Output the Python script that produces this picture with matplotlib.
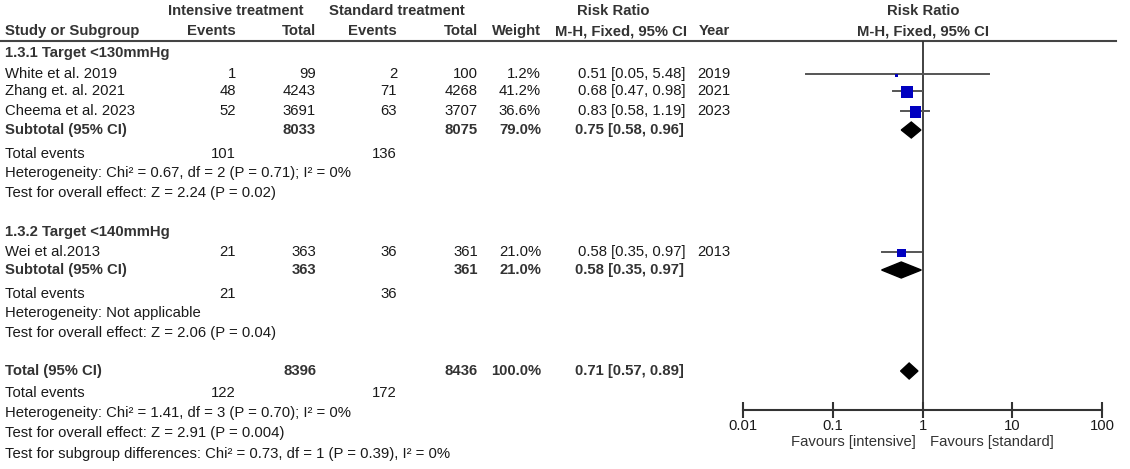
import numpy as np
import matplotlib
matplotlib.use("Agg")
import matplotlib.pyplot as plt
from matplotlib.patches import Polygon

plt.rcParams['font.family'] = ['Liberation Sans', 'DejaVu Sans']

# ---- data ----
studies = ["White et al. 2019", "Zhang et. al. 2021", "Cheema et al. 2023", "Wei et al.2013"]
int_events = [1, 48, 52, 21]
int_total = [99, 4243, 3691, 363]
std_events = [2, 71, 63, 36]
std_total = [100, 4268, 3707, 361]
weights = [1.2, 41.2, 36.6, 21.0]
rr = [0.51, 0.68, 0.83, 0.58]
rr_lo = [0.05, 0.47, 0.58, 0.35]
rr_hi = [5.48, 0.98, 1.19, 0.97]
years = [2019, 2021, 2023, 2013]

sub_names = ["1.3.1 Target <130mmHg", "1.3.2 Target <140mmHg"]
sub_int_total = [8033, 363]
sub_std_total = [8075, 361]
sub_weight = [79.0, 21.0]
sub_rr = [0.75, 0.58]
sub_lo = [0.58, 0.35]
sub_hi = [0.96, 0.97]
sub_int_events = [101, 21]
sub_std_events = [136, 36]
sub_het = ["Heterogeneity: Chi\u00b2 = 0.67, df = 2 (P = 0.71); I\u00b2 = 0%",
           "Heterogeneity: Not applicable"]
sub_test = ["Test for overall effect: Z = 2.24 (P = 0.02)",
            "Test for overall effect: Z = 2.06 (P = 0.04)"]

tot_int_total, tot_std_total = 8396, 8436
tot_rr, tot_lo, tot_hi = 0.71, 0.57, 0.89
tot_int_events, tot_std_events = 122, 172
tot_lines = ["Heterogeneity: Chi\u00b2 = 1.41, df = 3 (P = 0.70); I\u00b2 = 0%",
             "Test for overall effect: Z = 2.91 (P = 0.004)",
             "Test for subgroup differences: Chi\u00b2 = 0.73, df = 1 (P = 0.39), I\u00b2 = 0%"]

# row positions (pixels from top)
study_rows = [74, 91, 111, 252]
sub_rows = [130, 270]
head_rows = [53, 232]
sub_ev_rows = [154, 294]
tot_row = 371

W, H = 1130, 469
fig = plt.figure(figsize=(W / 100, H / 100), dpi=100)
ax = fig.add_axes([0, 0, 1, 1])
ax.set_xlim(0, W)
ax.set_ylim(H, 0)
ax.axis('off')

fs = 10.7
tc = '#1a1a1a'
hc = '#333333'

def txt(x, y, s, ha='left', bold=False, color=tc):
    ax.text(x, y, s, ha=ha, va='center', fontsize=fs, color=color,
            fontweight='bold' if bold else 'normal')

# header
txt(236, 11, "Intensive treatment", ha='center', bold=True, color=hc)
txt(397, 11, "Standard treatment", ha='center', bold=True, color=hc)
txt(613, 11, "Risk Ratio", ha='center', bold=True, color=hc)
txt(923, 11, "Risk Ratio", ha='center', bold=True, color=hc)
txt(5, 31, "Study or Subgroup", bold=True, color=hc)
txt(236, 31, "Events", ha='right', bold=True, color=hc)
txt(316, 31, "Total", ha='right', bold=True, color=hc)
txt(397, 31, "Events", ha='right', bold=True, color=hc)
txt(478, 31, "Total", ha='right', bold=True, color=hc)
txt(541, 31, "Weight", ha='right', bold=True, color=hc)
txt(687, 31, "M-H, Fixed, 95% CI", ha='right', bold=True, color=hc)
txt(730, 31, "Year", ha='right', bold=True, color=hc)
txt(923, 31, "M-H, Fixed, 95% CI", ha='center', bold=True, color=hc)
ax.plot([0, 1116], [41, 41], color='#444444', lw=1.5)

for i, s in enumerate(studies):
    y = study_rows[i]
    txt(5, y, s)
    txt(236, y, str(int_events[i]), ha='right')
    txt(316, y, str(int_total[i]), ha='right')
    txt(397, y, str(std_events[i]), ha='right')
    txt(478, y, str(std_total[i]), ha='right')
    txt(541, y, "%.1f%%" % weights[i], ha='right')
    txt(685, y, "%.2f [%.2f, %.2f]" % (rr[i], rr_lo[i], rr_hi[i]), ha='right')
    txt(730, y, str(years[i]), ha='right')

for g in range(2):
    txt(5, head_rows[g], sub_names[g], bold=True, color=hc)
    y = sub_rows[g]
    txt(5, y, "Subtotal (95% CI)", bold=True, color=hc)
    txt(316, y, str(sub_int_total[g]), ha='right', bold=True, color=hc)
    txt(478, y, str(sub_std_total[g]), ha='right', bold=True, color=hc)
    txt(541, y, "%.1f%%" % sub_weight[g], ha='right', bold=True, color=hc)
    txt(684, y, "%.2f [%.2f, %.2f]" % (sub_rr[g], sub_lo[g], sub_hi[g]), ha='right', bold=True, color=hc)
    y = sub_ev_rows[g]
    txt(5, y, "Total events")
    txt(236, y, str(sub_int_events[g]), ha='right')
    txt(397, y, str(sub_std_events[g]), ha='right')
    txt(5, y + 19.5, sub_het[g])
    txt(5, y + 39, sub_test[g])

txt(5, tot_row, "Total (95% CI)", bold=True, color=hc)
txt(316, tot_row, str(tot_int_total), ha='right', bold=True, color=hc)
txt(478, tot_row, str(tot_std_total), ha='right', bold=True, color=hc)
txt(541, tot_row, "100.0%", ha='right', bold=True, color=hc)
txt(684, tot_row, "%.2f [%.2f, %.2f]" % (tot_rr, tot_lo, tot_hi), ha='right', bold=True, color=hc)
txt(5, 393, "Total events")
txt(236, 393, str(tot_int_events), ha='right')
txt(397, 393, str(tot_std_events), ha='right')
for k, line in enumerate(tot_lines):
    txt(5, 413 + 20.5 * k, line)

# forest plot axes
x0, x1, ytop, ybot = 743, 1102, 41, 410
fa = fig.add_axes([x0 / W, (H - ybot) / H, (x1 - x0) / W, (ybot - ytop) / H])
fa.set_xscale('log')
fa.set_xlim(0.01, 100)
fa.set_ylim(ybot, ytop)
fa.patch.set_alpha(0)
for sp in ['top', 'left', 'right']:
    fa.spines[sp].set_visible(False)
fa.spines['bottom'].set_color('#333333')
fa.spines['bottom'].set_linewidth(1.5)
fa.set_yticks([])
fa.set_xticks([0.01, 0.1, 1, 10, 100])
fa.set_xticklabels(["0.01", "0.1", "1", "10", "100"])
fa.xaxis.set_minor_locator(matplotlib.ticker.NullLocator())
fa.tick_params(axis='x', direction='inout', length=11, width=1.5, color='#333333',
               labelsize=fs, labelcolor=tc, pad=1)
fa.axvline(1, color='#333333', lw=1.3)
fa.text(0.85, 442, "Favours [intensive]", ha='right', va='center', fontsize=fs,
        color='#333333', clip_on=False)
fa.text(1.2, 442, "Favours [standard]", ha='left', va='center', fontsize=fs,
        color='#333333', clip_on=False)

for i in range(len(studies)):
    y = study_rows[i]
    fa.plot([rr_lo[i], rr_hi[i]], [y, y], color='#555555', lw=1.4, zorder=2)
    side_px = max(3.0, 1.87 * np.sqrt(weights[i]))
    fa.scatter([rr[i]], [y + 1], marker='s', s=(side_px * 0.72) ** 2, color='#0000c0',
               edgecolors='none', zorder=3)

def diamond(c, lo, hi, y, h=8):
    fa.add_patch(Polygon([[lo, y], [c, y - h], [hi, y], [c, y + h]],
                         closed=True, color='black', zorder=3))

for g in range(2):
    diamond(sub_rr[g], sub_lo[g], sub_hi[g], sub_rows[g])
diamond(tot_rr, tot_lo, tot_hi, tot_row)

fig.savefig("out.png", dpi=100)
